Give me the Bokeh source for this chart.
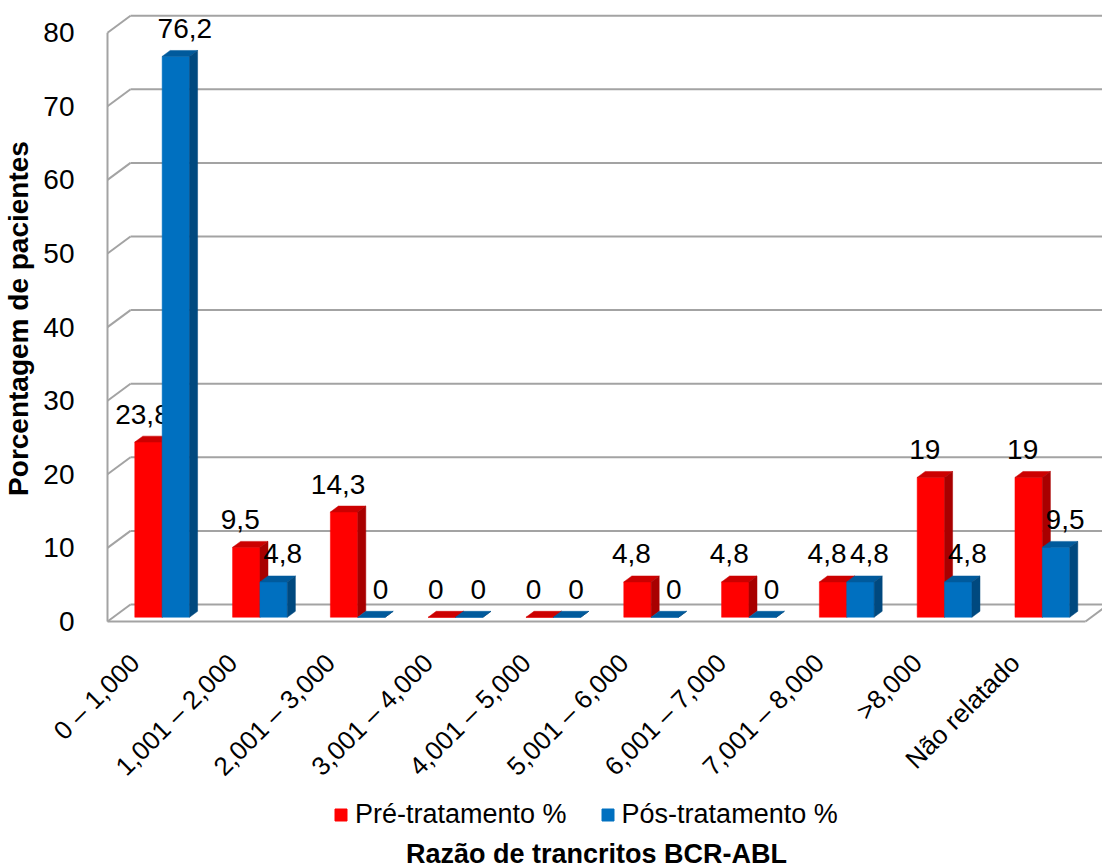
import numpy as np
from bokeh.plotting import figure
from bokeh.layouts import column
from bokeh.models import FixedTicker, Legend, LegendItem, Range1d, Label
from bokeh.core.properties import value
from bokeh.embed import file_html
from bokeh.resources import INLINE

# ---------------- data ----------------
categories = ["0 – 1,000", "1,001 – 2,000", "2,001 – 3,000", "3,001 – 4,000",
              "4,001 – 5,000", "5,001 – 6,000", "6,001 – 7,000", "7,001 – 8,000",
              ">8,000", "Não relatado"]
pre_values = [23.8, 9.5, 14.3, 0, 0, 4.8, 4.8, 4.8, 19, 19]
post_values = [76.2, 4.8, 0, 0, 0, 0, 0, 4.8, 4.8, 9.5]
series_names = ["Pré-tratamento %", "Pós-tratamento %"]
y_ticks = [0, 10, 20, 30, 40, 50, 60, 70, 80]
x_title = "Razão de trancritos BCR-ABL"
y_title = "Porcentagem de pacientes"

# ---------------- geometry / style ----------------
FONT = "Liberation Sans"
W, H = 1102, 868
H1 = 798             # height of the chart part; the rest holds legend + title
PX_X = 97.8          # pixels per category on the front plane
PX_Y = 7.36          # pixels per percent
DX = 23 / PX_X       # depth offset of the back wall (data units)
DY = 17 / PX_Y
D0, D1 = 0.25, 0.60  # bar front / back depth
BW = 0.28            # bar width
LABEL_SHIFT = 0.22   # category labels sit slightly left of the column centre
FRAME_L, FRAME_T, FRAME_B = 100, 4, 632
X0_PX, Y0_PX = 107, 621
n = len(categories)
ymax = y_ticks[-1]
colors = [("#ff0000", "#cc0000", "#a80000"), ("#0070c0", "#005a9c", "#00497f")]

x_range = Range1d(-0.5 - (X0_PX - FRAME_L) / PX_X, -0.5 + (W - X0_PX) / PX_X)
y_range = Range1d((Y0_PX - FRAME_B) / PX_Y, (Y0_PX - FRAME_T) / PX_Y)

p = figure(width=W, height=H1, x_range=x_range, y_range=y_range,
           output_backend="svg", toolbar_location=None, title=None,
           min_border_left=FRAME_L, min_border_right=0,
           min_border_top=FRAME_T, min_border_bottom=H1 - FRAME_B)
p.outline_line_color = None
p.xgrid.visible = False
p.ygrid.visible = False

GRID = "#a3a3a3"
left, right = -0.5, n - 0.5
# back wall gridlines + side wall slants
p.segment(x0=[left + DX] * len(y_ticks), y0=[t + DY for t in y_ticks],
          x1=[right + DX] * len(y_ticks), y1=[t + DY for t in y_ticks],
          line_color=GRID, line_width=2)
p.segment(x0=[left] * len(y_ticks), y0=y_ticks,
          x1=[left + DX] * len(y_ticks), y1=[t + DY for t in y_ticks],
          line_color=GRID, line_width=2)
# side wall front edge, floor front edge, floor right slant
p.segment(x0=[left, left, right], y0=[0, 0, 0],
          x1=[left, right, right + DX], y1=[ymax, 0, DY],
          line_color=GRID, line_width=2)

# ---------------- bars ----------------
for s, vals in enumerate([pre_values, post_values]):
    fx, fy, tx, ty, sx, sy = [], [], [], [], [], []
    for i, v in enumerate(vals):
        xa = i - BW + s * BW
        xb = xa + BW
        a0x, a0y = D0 * DX, D0 * DY
        a1x, a1y = D1 * DX, D1 * DY
        fx.append([xa + a0x, xb + a0x, xb + a0x, xa + a0x])
        fy.append([a0y, a0y, v + a0y, v + a0y])
        tx.append([xa + a0x, xb + a0x, xb + a1x, xa + a1x])
        ty.append([v + a0y, v + a0y, v + a1y, v + a1y])
        sx.append([xb + a0x, xb + a1x, xb + a1x, xb + a0x])
        sy.append([a0y, a1y, v + a1y, v + a0y])
    cf, ct, cs = colors[s]
    p.patches(fx, fy, fill_color=cf, line_color=cf, line_width=0.5)
    p.patches(tx, ty, fill_color=ct, line_color=ct, line_width=0.5)
    p.patches(sx, sy, fill_color=cs, line_color=cs, line_width=0.5)
    # data labels
    lx = [i - BW + s * BW + BW / 2 + D0 * DX for i in range(n)]
    ly = [v + D0 * DY for v in vals]
    txt = [f"{v:g}".replace(".", ",") for v in vals]
    p.text(x=lx, y=ly, text=txt, text_align="center", text_baseline="middle",
           x_offset=(-6 if s == 0 else 9), y_offset=-28,
           text_font=value(FONT), text_font_size="28px", text_color="black")

# ---------------- axes ----------------
p.yaxis.ticker = FixedTicker(ticks=y_ticks)
p.yaxis.axis_line_color = None
p.yaxis.major_tick_line_color = None
p.yaxis.minor_tick_line_color = None
p.yaxis.major_label_standoff = 20
p.yaxis.major_label_text_font = FONT
p.yaxis.major_label_text_font_size = "28px"
p.yaxis.major_label_text_color = "black"
p.yaxis.axis_label = y_title
p.yaxis.axis_label_text_font = FONT
p.yaxis.axis_label_text_font_size = "28px"
p.yaxis.axis_label_text_font_style = "bold"
p.yaxis.axis_label_text_color = "black"
p.yaxis.axis_label_standoff = 6

xticks = [i - LABEL_SHIFT for i in range(n)]
p.xaxis.ticker = FixedTicker(ticks=xticks)
p.xaxis.major_label_overrides = {t: c for t, c in zip(xticks, categories)}
p.xaxis.major_label_orientation = np.pi / 4
p.xaxis.axis_line_color = None
p.xaxis.major_tick_line_color = None
p.xaxis.minor_tick_line_color = None
p.xaxis.major_label_standoff = 20
p.xaxis.major_label_text_font = FONT
p.xaxis.major_label_text_font_size = "26px"
p.xaxis.major_label_text_color = "black"

# ---------------- legend + x title (second strip) ----------------
H2 = H - H1
p2 = figure(width=W, height=H2, x_range=Range1d(0, W - FRAME_L), y_range=Range1d(0, H2),
            output_backend="svg", toolbar_location=None, title=None,
            x_axis_type=None, y_axis_type=None,
            min_border_left=FRAME_L, min_border_right=0, min_border_top=0, min_border_bottom=0)
p2.outline_line_color = None
p2.xgrid.visible = False
p2.ygrid.visible = False
# legend swatches: renderers kept outside the visible range, only their legend glyph shows
dummies = [p2.quad(left=[-20], right=[-10], top=[-10], bottom=[-20], fill_color=colors[k][0],
                   line_color=colors[k][0]) for k in range(2)]
legend = Legend(items=[LegendItem(label=series_names[k], renderers=[dummies[k]]) for k in range(2)],
                orientation="horizontal", location=(233, H2 - 32),
                glyph_width=15, glyph_height=15, label_standoff=7, spacing=33,
                padding=0, margin=0, border_line_color=None, background_fill_alpha=0,
                label_height=31, label_text_baseline="middle",
                label_text_font=FONT, label_text_font_size="27px", label_text_color="black")
p2.add_layout(legend, "center")
p2.add_layout(Label(x=496, y=15, x_units="screen", y_units="screen", text=x_title,
                    text_align="center", text_baseline="middle", text_font=FONT,
                    text_font_size="27px", text_font_style="bold", text_color="black"))

open("out.html", "w").write(file_html(column(p, p2, spacing=0), INLINE))
